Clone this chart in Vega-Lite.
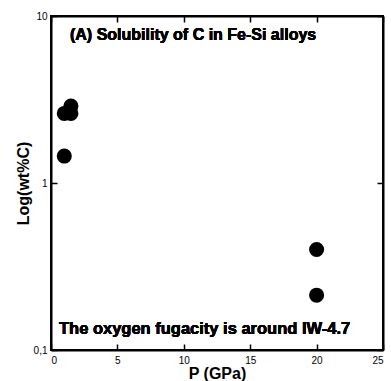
{
  "$schema": "https://vega.github.io/schema/vega-lite/v6.json",
  "autosize": {"type": "none"},
  "padding": {"left": 51, "top": 16, "right": 8, "bottom": 31},
  "width": 332,
  "height": 334,
  "background": "white",
  "config": {
    "view": {"stroke": "black", "strokeWidth": 2},
    "axis": {
      "grid": false,
      "domainColor": "black",
      "domainWidth": 2,
      "tickColor": "black",
      "tickWidth": 1.5,
      "tickSize": -6,
      "labelColor": "black",
      "labelFont": "Liberation Sans",
      "labelFontSize": 10,
      "titleFont": "Liberation Sans",
      "titleFontSize": 16,
      "titleFontWeight": "bold",
      "titleColor": "black"
    }
  },
  "data": {
    "values": [
      {"P": 1.0, "C": 2.61},
      {"P": 1.5, "C": 2.89},
      {"P": 1.5, "C": 2.61},
      {"P": 1.0, "C": 1.45},
      {"P": 20.0, "C": 0.40},
      {"P": 20.0, "C": 0.213}
    ]
  },
  "resolve": {"axis": {"x": "independent", "y": "independent"}},
  "layer": [
    {
      "mark": {"type": "circle", "size": 227, "color": "black", "opacity": 1},
      "encoding": {
        "x": {
          "field": "P", "type": "quantitative",
          "scale": {"domain": [0, 25], "nice": false, "zero": false},
          "axis": {"values": [0, 5, 10, 15, 20, 25], "title": "P (GPa)", "labelPadding": 11, "titlePadding": 0}
        },
        "y": {
          "field": "C", "type": "quantitative",
          "scale": {"type": "log", "domain": [0.1, 10], "nice": false},
          "axis": {"values": [0.1, 1, 10], "title": "Log(wt%C)", "labelExpr": "datum.value < 0.5 ? '0,1' : datum.value < 5 ? '1' : '10'", "labelPadding": 10, "titlePadding": 2}
        }
      }
    },
    {
      "mark": {"type": "point", "opacity": 0},
      "encoding": {
        "x": {"field": "P", "type": "quantitative", "axis": {"orient": "top", "values": [0, 5, 10, 15, 20, 25], "labels": false, "title": null}},
        "y": {"field": "C", "type": "quantitative", "axis": {"orient": "right", "values": [0.1, 1, 10], "labels": false, "title": null}}
      }
    },
    {
      "mark": {"type": "text", "align": "left", "baseline": "middle", "font": "Liberation Sans", "fontSize": 16, "fontWeight": "bold", "color": "black", "text": "(A) Solubility of C in Fe-Si alloys"},
      "encoding": {
        "x": {"datum": 1.43, "type": "quantitative", "axis": null},
        "y": {"datum": 7.7, "type": "quantitative", "axis": null}
      }
    },
    {
      "mark": {"type": "text", "align": "left", "baseline": "middle", "font": "Liberation Sans", "fontSize": 16.5, "fontWeight": "bold", "color": "black", "text": "The oxygen fugacity is around IW-4.7"},
      "encoding": {
        "x": {"datum": 0.6, "type": "quantitative", "axis": null},
        "y": {"datum": 0.134, "type": "quantitative", "axis": null}
      }
    }
  ]
}
